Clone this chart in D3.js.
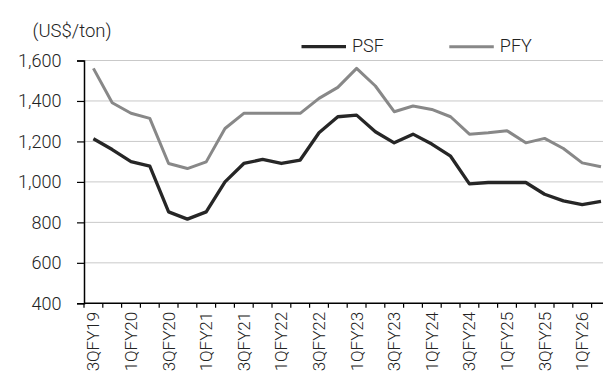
<!DOCTYPE html>
<html>
<head>
<meta charset="utf-8">
<script src="https://cdn.jsdelivr.net/npm/d3@7"></script>
<style>
  html, body { margin: 0; padding: 0; background: #fff; }
  svg { display: block; }
  text { font-family: Roboto, "Noto Sans", sans-serif; font-weight: 300; fill: #222; }
</style>
</head>
<body>
<svg id="chart" width="603" height="379"></svg>
<script>
const categories = ["3QFY19","4QFY19","1QFY20","2QFY20","3QFY20","4QFY20","1QFY21","2QFY21","3QFY21","4QFY21",
  "1QFY22","2QFY22","3QFY22","4QFY22","1QFY23","2QFY23","3QFY23","4QFY23","1QFY24","2QFY24",
  "3QFY24","4QFY24","1QFY25","2QFY25","3QFY25","4QFY25","1QFY26","2QFY26"];
const psf = [1213,1160,1100,1078,852,816,852,1000,1091,1111,1091,1108,1243,1322,1330,1248,1193,1236,1187,1127,990,997,997,997,939,906,888,904];
const pfy = [1561,1391,1339,1314,1091,1066,1099,1264,1339,1339,1339,1339,1413,1467,1561,1474,1347,1375,1358,1322,1236,1243,1253,1193,1215,1165,1094,1075];
const yTicks = [400,600,800,1000,1200,1400,1600];
const seriesNames = ["PSF","PFY"];
const seriesColors = ["#262626","#888888"];

(function () {
const svg = d3.select("#chart");
const mLeft = 84, mRight = 610.4, mTop = 60.5, mBottom = 303.3;

const x = d3.scaleBand().domain(categories).range([mLeft, mRight]).paddingInner(0).paddingOuter(0);
const y = d3.scaleLinear().domain([400, 1600]).range([mBottom, mTop]);

// gridlines
svg.append("g").selectAll("line").data(yTicks.filter(d => d > 400)).join("line")
  .attr("x1", mLeft).attr("x2", mRight)
  .attr("y1", d => y(d)).attr("y2", d => y(d))
  .attr("stroke", "#c9c9c9").attr("stroke-width", 1);

// y axis
const yAxis = d3.axisLeft(y).tickValues(yTicks).tickSize(7).tickFormat(d3.format(","));
const gy = svg.append("g").attr("transform", `translate(${mLeft},0)`).call(yAxis);
gy.select(".domain").attr("stroke", "#000").attr("stroke-width", 1.5);
gy.selectAll(".tick line").attr("stroke", "#000").attr("stroke-width", 1.2);
gy.selectAll("text").style("font-size", "18px").attr("x", -22.5).attr("dy", "0.33em").attr("text-anchor", "end");

// x axis (labels every other category)
const xAxis = d3.axisBottom(x).tickValues(categories.filter((d, i) => i % 2 === 0)).tickSize(0).tickPadding(0);
const gx = svg.append("g").attr("transform", `translate(0,${mBottom})`).call(xAxis);
gx.select(".domain").remove();
gx.selectAll("text")
  .style("font-size", "17px")
  .attr("transform", "rotate(-90)")
  .attr("text-anchor", "end")
  .attr("x", -8.5).attr("y", 0).attr("dy", "0.35em");

// x axis line + tick marks at category boundaries
svg.append("line").attr("x1", mLeft).attr("x2", mRight).attr("y1", mBottom).attr("y2", mBottom)
  .attr("stroke", "#000").attr("stroke-width", 1.5);
svg.append("g").selectAll("line").data(categories).join("line")
  .attr("x1", d => x(d)).attr("x2", d => x(d))
  .attr("y1", mBottom).attr("y2", mBottom + 4.5)
  .attr("stroke", "#000").attr("stroke-width", 1.2);

// lines
const line = d3.line().x((d, i) => x(categories[i]) + x.bandwidth() / 2).y(d => y(d));
svg.append("path").datum(pfy).attr("d", line).attr("fill", "none")
  .attr("stroke", seriesColors[1]).attr("stroke-width", 3).attr("stroke-linejoin", "round");
svg.append("path").datum(psf).attr("d", line).attr("fill", "none")
  .attr("stroke", seriesColors[0]).attr("stroke-width", 3.3).attr("stroke-linejoin", "round");

// unit label
svg.append("text").attr("x", 32.5).attr("y", 36.8).style("font-size", "18.5px").text("(US$/ton)");

// legend
const legendX = [301.5, 449.3];
seriesNames.forEach((name, i) => {
  const g = svg.append("g");
  g.append("line").attr("x1", legendX[i]).attr("x2", legendX[i] + 44.5)
    .attr("y1", 46.7).attr("y2", 46.7)
    .attr("stroke", seriesColors[i]).attr("stroke-width", i === 0 ? 3.3 : 3);
  g.append("text").attr("x", legendX[i] + 50.5).attr("y", 52.3)
    .style("font-size", "18px").text(name);
});
})();
</script>
</body>
</html>
